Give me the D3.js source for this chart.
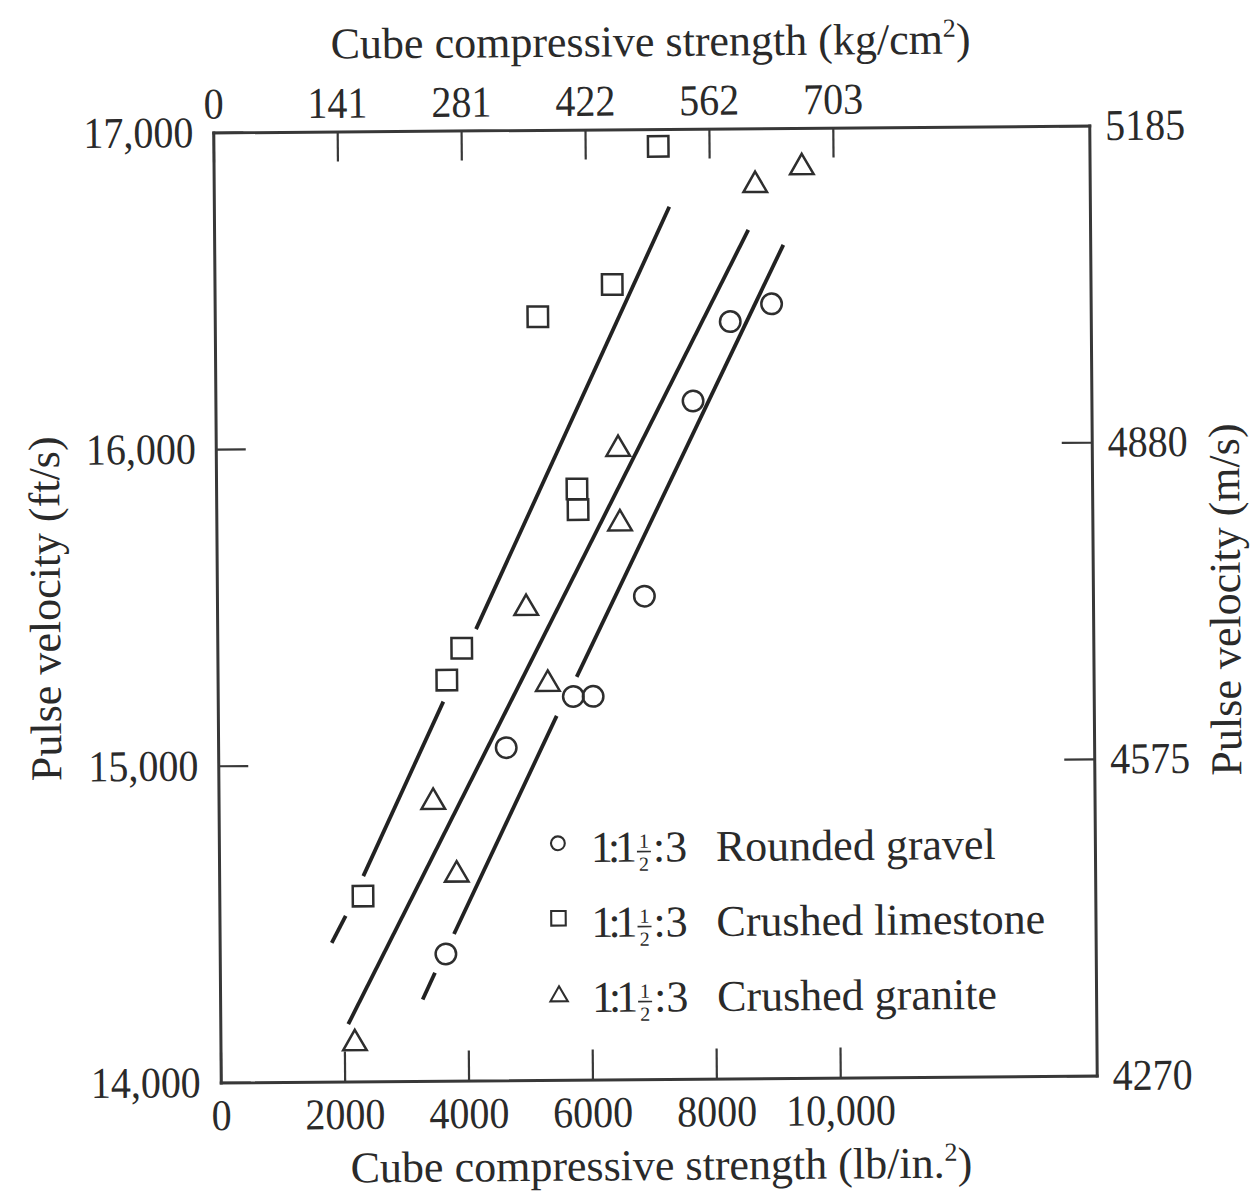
<!DOCTYPE html>
<html><head><meta charset="utf-8">
<script src="https://cdn.jsdelivr.net/npm/d3@7"></script>
<style>
html,body{margin:0;padding:0;background:#fff;}
svg{display:block;background:#fff;}
text{font-family:"Liberation Serif","Times New Roman",serif;fill:#2a2a2a;}
</style></head><body>
<svg id="chart" width="1253" height="1193"></svg>
<script>
// ---------- data ----------
const psiTicks = [0, 2000, 4000, 6000, 8000, 10000];
const psiTickLabels = ["0", "2000", "4000", "6000", "8000", "10,000"];
const kgTickLabels = ["0", "141", "281", "422", "562", "703"];
const ftTicks = [14000, 15000, 16000, 17000];
const ftTickLabels = ["14,000", "15,000", "16,000", "17,000"];
const msTickLabels = ["4270", "4575", "4880", "5185"];

const seriesNames = ["Rounded gravel", "Crushed limestone", "Crushed granite"];
const mixPrefix = "1:1";
const mixSuffix = ":3";

// 1:1½:3 Rounded gravel (circles)
const gravelX = [3650, 4650, 5740, 6060, 6900, 7710, 8320, 8990];
const gravelY = [14400, 15050, 15210, 15210, 15525, 16140, 16390, 16445];
// 1:1½:3 Crushed limestone (squares)
const limestoneX = [2320, 3700, 3945, 5825, 5840, 5215, 6420, 7180];
const limestoneY = [14585, 15265, 15365, 15865, 15800, 16410, 16510, 16945];
// 1:1½:3 Crushed granite (triangles)
const graniteX = [2170, 3835, 3465, 5330, 4990, 6515, 6495, 8740, 9495];
const graniteY = [14120, 14650, 14880, 15250, 15490, 15755, 15990, 16820, 16875];

// fitted lines (segments, broken around points)
const gravelFit = [[[3270, 14257], [3472, 14341]], [[3784, 14463], [5469, 15149]], [[5797, 15272], [9187, 16631]]];
const limestoneFit = [[[1809, 14438], [2038, 14523]], [[2327, 14648], [3641, 15197]], [[4178, 15425], [7351, 16754]]];
const graniteFit = [[[2066, 14181], [8623, 16679]]];

// ---------- chart ----------
const svg = d3.select("#chart");
const g = svg.append("g").attr("transform", "rotate(-0.45,655,604)");
const INK = "#2e2e2e";

const x = d3.scaleLinear().domain([0, 14140]).range([217, 1093]);
const y = d3.scaleLinear().domain([14000, 17000]).range([1079, 129]);

function styleAxis(sel) {
  sel.attr("font-family", "Liberation Serif, Times New Roman, serif")
     .attr("font-size", 40).style("color", "#383838");
  sel.select(".domain").attr("stroke-width", 3).attr("stroke-linecap", "square");
  sel.selectAll(".tick line").attr("stroke-width", 2.2);
  sel.selectAll(".tick text").attr("fill", "#2a2a2a")
     .style("transform-box", "fill-box").style("transform-origin", "center")
     .style("transform", "scale(1,1.1)");
}

g.append("g").attr("transform", "translate(0,1079)")
  .call(d3.axisBottom(x).tickValues(psiTicks).tickFormat((d, i) => psiTickLabels[i])
        .tickSizeInner(-30).tickSizeOuter(0).tickPadding(18))
  .call(styleAxis);

g.append("g").attr("transform", "translate(0,129)")
  .call(d3.axisTop(x).tickValues(psiTicks).tickFormat((d, i) => kgTickLabels[i])
        .tickSizeInner(-30).tickSizeOuter(0).tickPadding(15))
  .call(styleAxis);

g.append("g").attr("transform", "translate(217,0)")
  .call(d3.axisLeft(y).tickValues(ftTicks).tickFormat((d, i) => ftTickLabels[i])
        .tickSizeInner(-30).tickSizeOuter(0).tickPadding(20))
  .call(styleAxis);

g.append("g").attr("transform", "translate(1093,0)")
  .call(d3.axisRight(y).tickValues(ftTicks).tickFormat((d, i) => msTickLabels[i])
        .tickSizeInner(-30).tickSizeOuter(0).tickPadding(16))
  .call(styleAxis);

// axis titles
function titleWithSup(parent, main, tail) {
  parent.append("tspan").text(main);
  parent.append("tspan").attr("font-size", 26).attr("dy", -17).text("2");
  parent.append("tspan").attr("font-size", 44).attr("dy", 17).text(tail);
}
const tTop = g.append("text").attr("x", 655).attr("y", 56).attr("text-anchor", "middle").attr("font-size", 44);
titleWithSup(tTop, "Cube compressive strength (kg/cm", ")");
const tBot = g.append("text").attr("x", 657).attr("y", 1180).attr("text-anchor", "middle").attr("font-size", 44);
titleWithSup(tBot, "Cube compressive strength (lb/in.", ")");

g.append("text").attr("transform", "translate(60,604) rotate(-90)")
  .attr("text-anchor", "middle").attr("font-size", 44).text("Pulse velocity (ft/s)");
g.append("text").attr("transform", "translate(1240,604) rotate(-90)")
  .attr("text-anchor", "middle").attr("font-size", 44).text("Pulse velocity (m/s)");

// fitted lines
const lineGen = d3.line().x(d => x(d[0])).y(d => y(d[1]));
[gravelFit, limestoneFit, graniteFit].forEach(segs => {
  g.append("g").selectAll("path").data(segs).join("path")
    .attr("d", lineGen).attr("fill", "none").attr("stroke", "#222")
    .attr("stroke-width", 3.8).attr("stroke-linecap", "butt");
});

// points
const series = [
  { xs: gravelX, ys: gravelY, sym: d3.symbolCircle, size: 330 },
  { xs: limestoneX, ys: limestoneY, sym: d3.symbolSquare, size: 420 },
  { xs: graniteX, ys: graniteY, sym: d3.symbolTriangle, size: 240 }
];
series.forEach(s => {
  const pts = s.xs.map((v, i) => [v, s.ys[i]]);
  g.append("g").selectAll("path").data(pts).join("path")
    .attr("transform", d => `translate(${x(d[0])},${y(d[1])})`)
    .attr("d", d3.symbol().type(s.sym).size(s.size)())
    .attr("fill", "none").attr("stroke", INK).attr("stroke-width", 2.5);
});

// legend
const legendSizes = [150, 210, 130];
const leg = g.append("g");
seriesNames.forEach((name, i) => {
  const base = 861.5 + i * 75;
  const s = series[i];
  leg.append("path")
    .attr("transform", `translate(556,${base - (i === 2 ? 16 : 19)})`)
    .attr("d", d3.symbol().type(s.sym).size(legendSizes[i])())
    .attr("fill", "none").attr("stroke", INK).attr("stroke-width", 2.1);
  leg.append("text").attr("x", 589).attr("y", base).attr("font-size", 44)
    .attr("textLength", 46).attr("lengthAdjust", "spacing").text(mixPrefix);
  leg.append("text").attr("x", 642).attr("y", base - 14).attr("font-size", 20)
    .attr("text-anchor", "middle").text("1");
  leg.append("line").attr("x1", 635).attr("x2", 649).attr("y1", base - 10).attr("y2", base - 10)
    .attr("stroke", INK).attr("stroke-width", 1.6);
  leg.append("text").attr("x", 642).attr("y", base + 9).attr("font-size", 20)
    .attr("text-anchor", "middle").text("2");
  leg.append("text").attr("x", 651).attr("y", base).attr("font-size", 44).text(mixSuffix);
  leg.append("text").attr("x", 714).attr("y", base).attr("font-size", 44).text(name);
});
</script>
</body></html>
